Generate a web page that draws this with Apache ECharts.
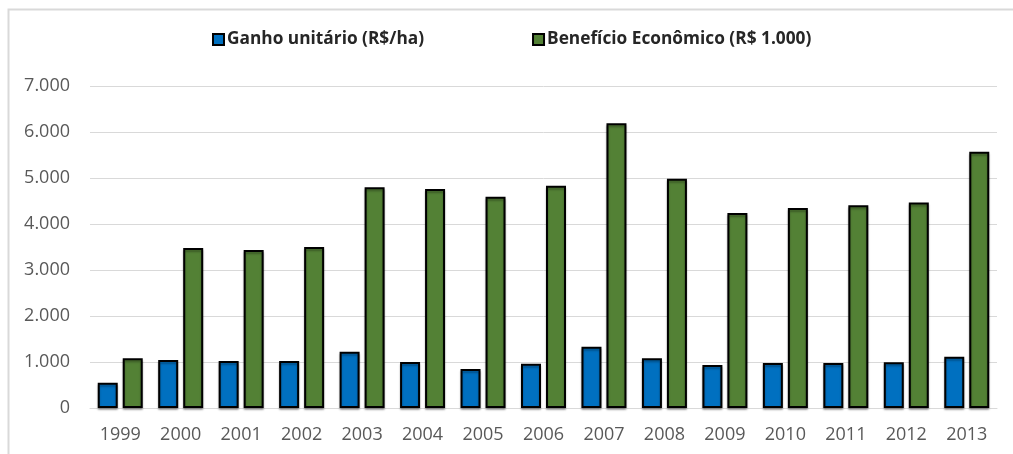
<!DOCTYPE html>
<html><head><meta charset="utf-8">
<script src="https://cdn.jsdelivr.net/npm/echarts@6/dist/echarts.min.js"></script>
<style>html,body{margin:0;padding:0;background:#fff}#c{width:1013px;height:454px}</style>
</head><body><div id="c"></div>
<script>
const years = ['1999','2000','2001','2002','2003','2004','2005','2006','2007','2008','2009','2010','2011','2012','2013'];
const ganho = [550,1043,1020,1020,1224,1000,850,960,1333,1080,935,980,980,993,1115];
const beneficio = [1080,3478,3435,3500,4800,4760,4590,4830,6190,4985,4240,4350,4410,4470,5570];
const seriesNames = ['Ganho unitário (R$/ha)','Benefício Econômico (R$ 1.000)'];
const yTicks = [0,1000,2000,3000,4000,5000,6000,7000];

const fmt = v => v === 0 ? '0' : v.toLocaleString('de-DE');
const chart = echarts.init(document.getElementById('c'), null, {renderer:'canvas'});
const barStyle = (c) => ({color:c, borderColor:'#000', borderWidth:2, shadowColor:'rgba(0,0,0,0.3)', shadowOffsetY:2, shadowBlur:2});
chart.setOption({
  animation:false,
  textStyle:{fontFamily:'Open Sans'},
  graphic:[{type:'rect', shape:{x:8.5,y:9.5,width:1010,height:450}, style:{fill:'none', stroke:'#d9d9d9', lineWidth:2}}],
  legend:{
    top:26, left:207, itemGap:108, itemWidth:11, itemHeight:11, icon:'rect',
    textStyle:{fontSize:17.3, fontWeight:'bold', color:'#262626', fontFamily:'Open Sans', padding:[0,0,0,-2]},
    data:seriesNames
  },
  grid:{left:90, right:16, top:86, bottom:46, containLabel:false},
  xAxis:{type:'category', data:years,
    axisLine:{lineStyle:{color:'#d9d9d9', width:1}}, axisTick:{show:false},
    axisLabel:{fontSize:18, color:'#595959', margin:18}},
  yAxis:{type:'value', min:yTicks[0], max:yTicks[yTicks.length-1], interval:1000,
    axisLine:{show:false}, axisTick:{show:false},
    splitLine:{lineStyle:{color:'#d9d9d9', width:1}},
    axisLabel:{fontSize:18, color:'#595959', margin:20, formatter:fmt}},
  series:[
    {name:seriesNames[0], type:'bar', data:ganho, barWidth:20, barGap:'25%', itemStyle:barStyle('#0070c0')},
    {name:seriesNames[1], type:'bar', data:beneficio, barWidth:20, itemStyle:barStyle('#538135')}
  ]
});
</script></body></html>
